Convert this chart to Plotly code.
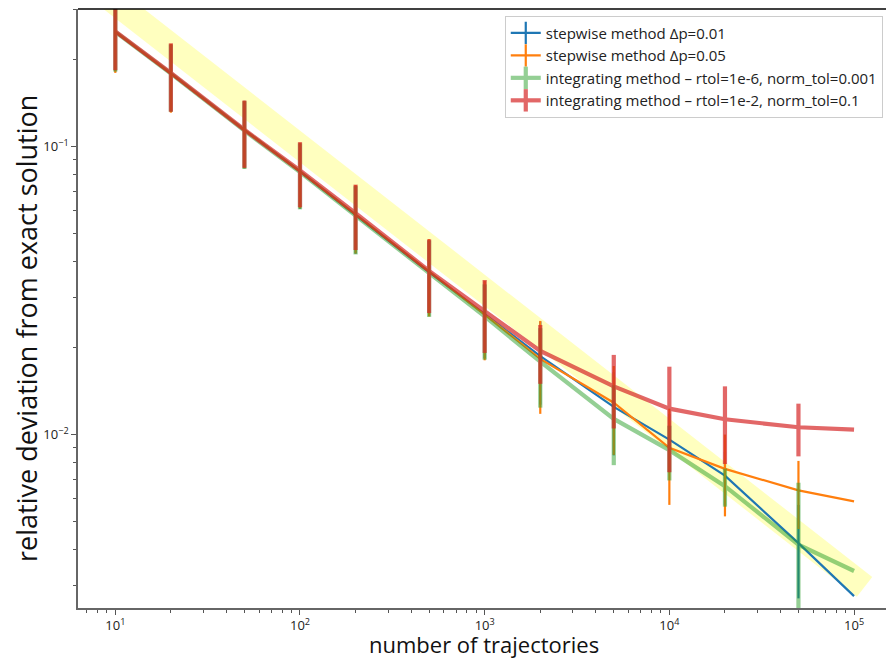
import numpy as np
import plotly.graph_objects as go

# ---- data ----
n_traj = [10, 20, 50, 100, 200, 500, 1000, 2000, 5000, 10000, 20000, 50000, 100000]

step_001 = [0.250, 0.179, 0.114, 0.0818, 0.0578, 0.0366, 0.0262, 0.0187, 0.01247, 0.0096, 0.0072, 0.0042, 0.00275]
step_001_err = [0.068, 0.047, 0.030, 0.021, 0.0153, 0.0108, 0.0078, 0.0060, 0.0040, 0.0022, 0.0015, 0.0015, 0]

step_005 = [0.250, 0.179, 0.114, 0.0820, 0.0580, 0.0367, 0.0261, 0.0183, 0.0129, 0.0090, 0.0076, 0.0064, 0.00586]
step_005_err = [0.070, 0.048, 0.030, 0.021, 0.0155, 0.0110, 0.0080, 0.0065, 0.0044, 0.0033, 0.0024, 0.0017, 0]

integ_fine = [0.250, 0.179, 0.1135, 0.0815, 0.0575, 0.0364, 0.0257, 0.0179, 0.01133, 0.00883, 0.00662, 0.00415, 0.00336]
integ_fine_err = [0.068, 0.047, 0.030, 0.021, 0.0153, 0.0108, 0.0075, 0.0055, 0.0035, 0.0019, 0.0010, 0.00265, 0]

integ_coarse = [0.251, 0.180, 0.1143, 0.0825, 0.0587, 0.0370, 0.0268, 0.0195, 0.0147, 0.0123, 0.0113, 0.0106, 0.0104]
integ_coarse_err = [0.067, 0.048, 0.030, 0.021, 0.0150, 0.0106, 0.0076, 0.0045, 0.0042, 0.0049, 0.0034, 0.0022, 0]

# reference 1/sqrt(N) band
ref_n = [5, 114000]
ref_dev = [0.4472, 0.002962]

labels = [
    "stepwise method Δp=0.01",
    "stepwise method Δp=0.05",
    "integrating method – rtol=1e-6, norm_tol=0.001",
    "integrating method – rtol=1e-2, norm_tol=0.1",
]

x_major = [10, 100, 1000, 10000, 100000]
x_major_text = ["10<sup>1</sup>", "10<sup>2</sup>", "10<sup>3</sup>", "10<sup>4</sup>", "10<sup>5</sup>"]
y_major = [0.01, 0.1]
y_major_text = ["10<sup>−2</sup>", "10<sup>−1</sup>"]

x_minor = [m * 10 ** k for k in range(0, 6) for m in range(2, 10)]
y_minor = [m * 10 ** k for k in range(-3, 0) for m in range(2, 10)]

series = [
    (step_001, step_001_err, "#1f77b4", 2.2, 1.0),
    (step_005, step_005_err, "#ff7f0e", 2.2, 1.0),
    (integ_fine, integ_fine_err, "#2ca02c", 4.2, 0.5),
    (integ_coarse, integ_coarse_err, "#d62728", 4.2, 0.7),
]

fig = go.Figure()

fig.add_trace(go.Scatter(
    x=ref_n, y=ref_dev, mode="lines",
    line=dict(color="rgba(255,255,0,0.25)", width=25),
    showlegend=False, hoverinfo="skip",
))

for (vals, errs, col, lw, op), lab in zip(series, labels):
    fig.add_trace(go.Scatter(
        x=n_traj, y=vals, mode="lines",
        line=dict(color=col, width=lw),
        opacity=op,
        error_y=dict(type="data", array=errs, visible=True, color=col, thickness=lw, width=0),
        showlegend=False, name=lab,
    ))

# legend-only entries (line + vertical bar like matplotlib errorbar handles)
for (vals, errs, col, lw, op), lab in zip(series, labels):
    fig.add_trace(go.Scatter(
        x=[None], y=[None], mode="lines+markers", name=lab,
        line=dict(color=col, width=lw), opacity=op,
        marker=dict(symbol="line-ns", size=16, color=col, line=dict(color=col, width=lw)),
    ))

fig.update_layout(
    width=886, height=662,
    margin=dict(l=78, r=0, t=9, b=54),
    paper_bgcolor="white", plot_bgcolor="white",
    font=dict(family="Open Sans", color="#222", size=15),
    showlegend=True,
    legend=dict(
        x=0.996, y=0.989, xanchor="right", yanchor="top",
        bgcolor="white", bordercolor="#cccccc", borderwidth=1,
        font=dict(size=15, color="#222"),
        itemwidth=30,
    ),
    xaxis=dict(
        type="log", range=[0.798, 5.173],
        tickmode="array", tickvals=x_major, ticktext=x_major_text,
        ticks="outside", ticklen=5, tickwidth=1, tickcolor="#555",
        showline=True, linecolor="#666", linewidth=1.5,
        showgrid=False, zeroline=False,
        minor=dict(tickmode="array", tickvals=x_minor, ticks="outside", ticklen=3, tickwidth=1, tickcolor="#555", showgrid=False),
        tickfont=dict(size=13),
    ),
    yaxis=dict(
        type="log", range=[np.log10(0.0025), np.log10(0.3)],
        tickmode="array", tickvals=y_major, ticktext=y_major_text,
        ticks="outside", ticklen=5, tickwidth=1, tickcolor="#555",
        showline=True, linecolor="#666", linewidth=1.5,
        showgrid=False, zeroline=False,
        minor=dict(tickmode="array", tickvals=y_minor, ticks="outside", ticklen=3, tickwidth=1, tickcolor="#555", showgrid=False),
        tickfont=dict(size=13),
    ),
    shapes=[dict(type="line", xref="paper", yref="paper", x0=0, x1=1, y0=1, y1=1,
                 line=dict(color="black", width=1.5))],
    annotations=[
        dict(text="number of trajectories", xref="paper", yref="paper",
             x=0.503, y=-0.06, xanchor="center", yanchor="middle",
             showarrow=False, font=dict(size=22, color="#111")),
        dict(text="relative deviation from exact solution", xref="paper", yref="paper",
             x=-0.063, y=0.466, xanchor="center", yanchor="middle", textangle=-90,
             showarrow=False, font=dict(size=27, color="#111")),
    ],
)

fig.write_html("out.html")
